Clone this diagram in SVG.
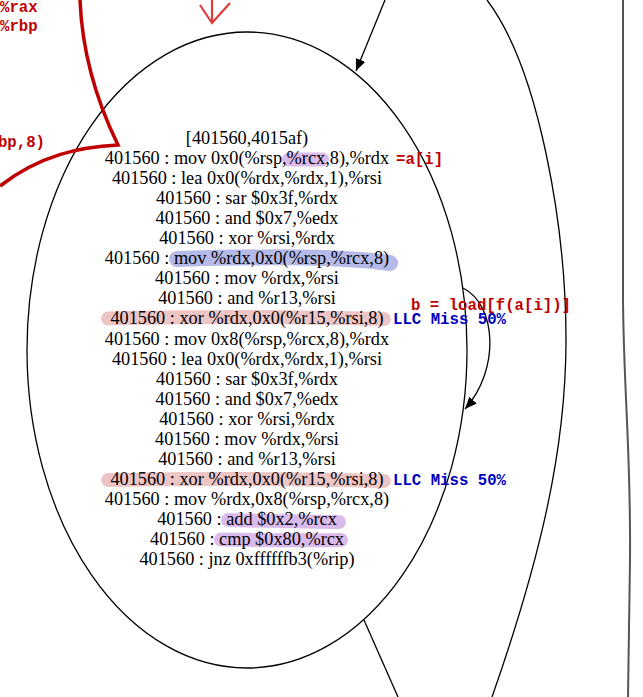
<svg xmlns="http://www.w3.org/2000/svg" width="643" height="697" viewBox="0 0 643 697">
<style>
.t{font-family:"Liberation Serif","Times New Roman",serif;font-size:18.3px;fill:#000;text-anchor:middle}
.m{font-family:"Liberation Mono","Courier New",monospace;font-size:15.7px;font-weight:bold}
.red{fill:#c00000}
.blue{fill:#0000c0}
.e{fill:none;stroke:#000;stroke-width:1.3}
.hl{fill:none;stroke-linecap:round;stroke-linejoin:round}
.hp{stroke:#cfa3e6;opacity:0.75;stroke-width:14}
.hb{stroke:#9ea3e0;opacity:0.75;stroke-width:16}
.hr{stroke:#e8b2b2;opacity:0.75;stroke-width:14}
</style>
<defs>
<marker id="ah" viewBox="0 0 12 10" refX="12" refY="5" markerWidth="12" markerHeight="10" markerUnits="userSpaceOnUse" orient="auto">
<path d="M0,0 L12,5 L0,10 Z" fill="#000"/>
</marker>
</defs>
<rect width="643" height="697" fill="#fff"/>
<g id="connectors">
<path class="e" d="M385,0 L356,71" marker-end="url(#ah)"/>
<path class="e" d="M463,288 C497,305 500,370 465,409" marker-end="url(#ah)"/>
<path class="e" d="M364,620 L398,697"/>
<path class="e" d="M487,0 C540,70 566,230 566,340 C566,450 540,560 492,697"/>
<path d="M623,0 L623,300 C624,400 631,450 630,560 L628,697" fill="none" stroke="#555" stroke-width="2"/>
</g>
<g id="highlights">
<path class="hl hp" d="M289,159.5 L322,159.5"/>
<path class="hl hb" d="M177,259 C250,257 330,255 390,263"/>
<path class="hl hr" d="M108,318.5 C200,316 300,317 384,319"/>
<path class="hl hr" d="M108,480 C200,478 300,479 384,481"/>
<path class="hl hp" d="M228,520 C270,521 310,522 339,522"/>
<path class="hl hp" d="M221,539.5 C260,540 300,541 341,540"/>
</g>
<g id="node">
<ellipse cx="247" cy="350" rx="220" ry="318" fill="none" stroke="#000" stroke-width="1.3"/>
<text class="t" x="247" y="144">[401560,4015af)</text>
<text class="t" x="247" y="164.05">401560 : mov 0x0(%rsp,%rcx,8),%rdx</text>
<text class="t" x="247" y="184.1">401560 : lea 0x0(%rdx,%rdx,1),%rsi</text>
<text class="t" x="247" y="204.15">401560 : sar $0x3f,%rdx</text>
<text class="t" x="247" y="224.2">401560 : and $0x7,%edx</text>
<text class="t" x="247" y="244.25">401560 : xor %rsi,%rdx</text>
<text class="t" x="247" y="264.3">401560 : mov %rdx,0x0(%rsp,%rcx,8)</text>
<text class="t" x="247" y="284.35">401560 : mov %rdx,%rsi</text>
<text class="t" x="247" y="304.4">401560 : and %r13,%rsi</text>
<text class="t" x="247" y="324.45">401560 : xor %rdx,0x0(%r15,%rsi,8)</text>
<text class="t" x="247" y="344.5">401560 : mov 0x8(%rsp,%rcx,8),%rdx</text>
<text class="t" x="247" y="364.55">401560 : lea 0x0(%rdx,%rdx,1),%rsi</text>
<text class="t" x="247" y="384.6">401560 : sar $0x3f,%rdx</text>
<text class="t" x="247" y="404.65">401560 : and $0x7,%edx</text>
<text class="t" x="247" y="424.7">401560 : xor %rsi,%rdx</text>
<text class="t" x="247" y="444.75">401560 : mov %rdx,%rsi</text>
<text class="t" x="247" y="464.8">401560 : and %r13,%rsi</text>
<text class="t" x="247" y="484.85">401560 : xor %rdx,0x0(%r15,%rsi,8)</text>
<text class="t" x="247" y="504.9">401560 : mov %rdx,0x8(%rsp,%rcx,8)</text>
<text class="t" x="247" y="524.95">401560 : add $0x2,%rcx</text>
<text class="t" x="247" y="545">401560 : cmp $0x80,%rcx</text>
<text class="t" x="247" y="565.05">401560 : jnz 0xffffffb3(%rip)</text>
</g>
<g id="annotations">
<path d="M80,0 C82,50 96,100 118,145 C80,147 40,155 0,186" fill="none" stroke="#c00000" stroke-width="3.5" stroke-linejoin="miter"/>
<path d="M212,0 L212,23 M200,5 L212,23 L230,3" fill="none" stroke="#e03a3a" stroke-width="2.2"/>
<text class="m red" x="0" y="12">%rax</text>
<text class="m red" x="0" y="31">%rbp</text>
<text class="m red" x="45" y="147" text-anchor="end">bp,8)</text>
<text class="m red" x="396" y="164">=a[i]</text>
<text class="m red" x="411" y="310">b = load[f(a[i])]</text>
<text class="m blue" x="393" y="324">LLC Miss 50%</text>
<text class="m blue" x="393" y="485">LLC Miss 50%</text>
</g>
</svg>
